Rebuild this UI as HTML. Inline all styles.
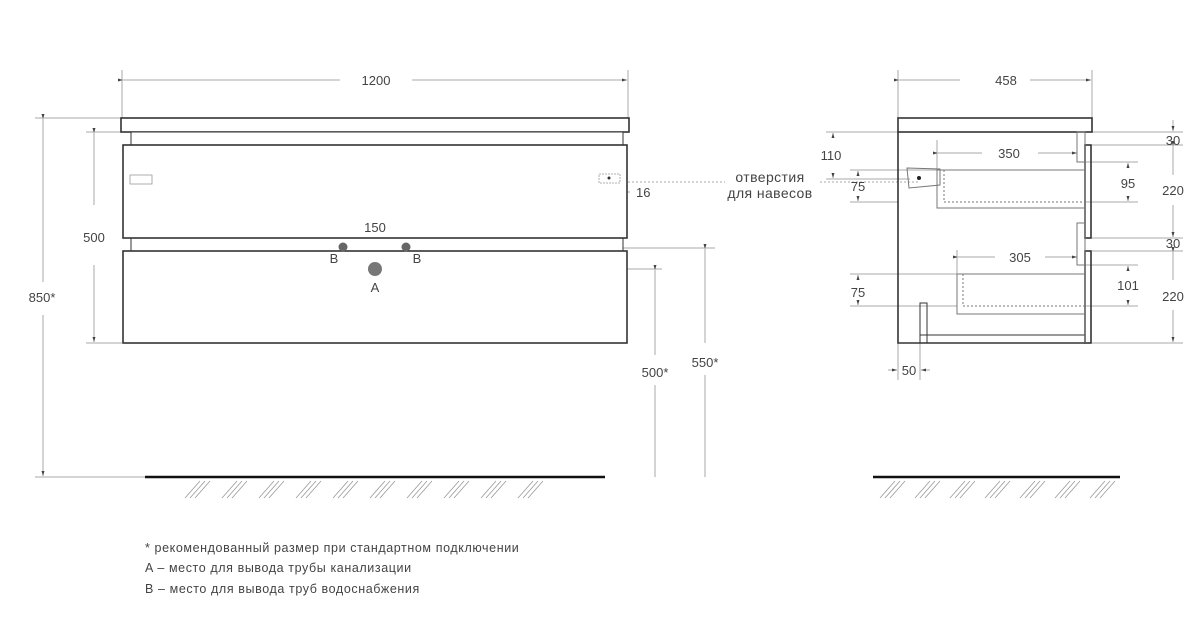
<!DOCTYPE html>
<html><head><meta charset="utf-8"><style>
html,body{margin:0;padding:0;background:#fff;width:1200px;height:618px;overflow:hidden}
text{font-family:"Liberation Sans","DejaVu Sans",sans-serif;fill:#444;font-size:13px}
</style></head><body>
<svg width="1200" height="618" viewBox="0 0 1200 618" xmlns="http://www.w3.org/2000/svg">
<defs>
<marker id="ar" markerWidth="6" markerHeight="6" refX="5" refY="3" orient="auto"><path d="M0,1.5 L5,3 L0,4.5z" fill="#444"/></marker>
</defs>
<g stroke="#aaa" stroke-width="1" fill="none">
<line x1="122" y1="70" x2="122" y2="118"/><line x1="628" y1="70" x2="628" y2="118"/>
<line x1="123" y1="80" x2="340" y2="80" marker-start="url(#ar)"/><line x1="412" y1="80" x2="627" y2="80" marker-end="url(#ar)"/>
<line x1="35" y1="118" x2="121" y2="118"/><line x1="35" y1="477" x2="145" y2="477"/>
<line x1="43" y1="119" x2="43" y2="282" marker-start="url(#ar)"/><line x1="43" y1="315" x2="43" y2="476" marker-end="url(#ar)"/>
<line x1="86" y1="132" x2="122" y2="132"/><line x1="86" y1="343" x2="122" y2="343"/>
<line x1="94" y1="133" x2="94" y2="205" marker-start="url(#ar)"/><line x1="94" y1="265" x2="94" y2="342" marker-end="url(#ar)"/>
<line x1="335" y1="248" x2="715" y2="248"/><line x1="383" y1="269" x2="662" y2="269"/>
<line x1="655" y1="270" x2="655" y2="355" marker-start="url(#ar)"/><line x1="655" y1="385" x2="655" y2="477"/>
<line x1="705" y1="249" x2="705" y2="343" marker-start="url(#ar)"/><line x1="705" y1="375" x2="705" y2="477"/>
<line x1="343" y1="220" x2="343" y2="255"/><line x1="406" y1="220" x2="406" y2="255"/>
<line x1="352" y1="228" x2="344" y2="228" marker-end="url(#ar)"/><line x1="396" y1="228" x2="405" y2="228" marker-end="url(#ar)"/>
<line x1="620" y1="175" x2="620" y2="200"/>
<line x1="612" y1="192" x2="619" y2="192" marker-end="url(#ar)"/><line x1="630" y1="192" x2="622" y2="192" marker-end="url(#ar)"/>
<line x1="620" y1="182" x2="725" y2="182" stroke-dasharray="2,2"/>
<line x1="820" y1="182" x2="918" y2="182" stroke-dasharray="2,2"/>
<line x1="898" y1="70" x2="898" y2="118"/><line x1="1092" y1="70" x2="1092" y2="118"/>
<line x1="899" y1="80" x2="960" y2="80" marker-start="url(#ar)"/><line x1="1030" y1="80" x2="1091" y2="80" marker-end="url(#ar)"/>
<line x1="1092" y1="132" x2="1183" y2="132"/><line x1="1092" y1="145" x2="1183" y2="145"/>
<line x1="1092" y1="238" x2="1183" y2="238"/><line x1="1092" y1="251" x2="1183" y2="251"/>
<line x1="1092" y1="343" x2="1183" y2="343"/>
<line x1="1173" y1="120" x2="1173" y2="131" marker-end="url(#ar)"/>
<line x1="1173" y1="146" x2="1173" y2="175" marker-start="url(#ar)"/><line x1="1173" y1="205" x2="1173" y2="237" marker-end="url(#ar)"/>
<line x1="1173" y1="252" x2="1173" y2="280" marker-start="url(#ar)"/><line x1="1173" y1="310" x2="1173" y2="342" marker-end="url(#ar)"/>
<line x1="1085" y1="162" x2="1138" y2="162"/><line x1="1085" y1="202" x2="1138" y2="202"/>
<line x1="1128" y1="166" x2="1128" y2="163" marker-end="url(#ar)"/><line x1="1128" y1="198" x2="1128" y2="201" marker-end="url(#ar)"/>
<line x1="1085" y1="265" x2="1138" y2="265"/><line x1="1085" y1="306" x2="1138" y2="306"/>
<line x1="1128" y1="269" x2="1128" y2="266" marker-end="url(#ar)"/><line x1="1128" y1="302" x2="1128" y2="305" marker-end="url(#ar)"/>
<line x1="826" y1="132" x2="898" y2="132"/><line x1="826" y1="179" x2="910" y2="179"/>
<line x1="833" y1="137" x2="833" y2="133" marker-end="url(#ar)"/><line x1="833" y1="174" x2="833" y2="178" marker-end="url(#ar)"/>
<line x1="850" y1="170" x2="937" y2="170"/><line x1="850" y1="202" x2="898" y2="202"/>
<line x1="858" y1="174" x2="858" y2="171" marker-end="url(#ar)"/><line x1="858" y1="198" x2="858" y2="201" marker-end="url(#ar)"/>
<line x1="850" y1="274" x2="957" y2="274"/><line x1="850" y1="306" x2="957" y2="306"/>
<line x1="858" y1="278" x2="858" y2="275" marker-end="url(#ar)"/><line x1="858" y1="302" x2="858" y2="305" marker-end="url(#ar)"/>
<line x1="937" y1="140" x2="937" y2="170"/>
<line x1="938" y1="153" x2="982" y2="153" marker-start="url(#ar)"/><line x1="1038" y1="153" x2="1077" y2="153" marker-end="url(#ar)"/>
<line x1="957" y1="250" x2="957" y2="274"/>
<line x1="958" y1="257" x2="995" y2="257" marker-start="url(#ar)"/><line x1="1045" y1="257" x2="1077" y2="257" marker-end="url(#ar)"/>
<line x1="898" y1="342" x2="898" y2="380"/><line x1="920" y1="342" x2="920" y2="380"/>
<line x1="888" y1="370" x2="897" y2="370" marker-end="url(#ar)"/><line x1="930" y1="370" x2="921" y2="370" marker-end="url(#ar)"/>
</g>
<g stroke="#333" stroke-width="1.6" fill="#fff">
<rect x="121" y="118" width="508" height="14"/>
<rect x="131" y="132" width="492" height="13" stroke-width="1"/>
<rect x="131" y="238" width="492" height="13" stroke-width="1"/>
<rect x="123" y="145" width="504" height="93"/>
<rect x="123" y="251" width="504" height="92"/>
</g>
<g stroke="#999" stroke-width="0.8" fill="none">
<rect x="130" y="175" width="22" height="9"/><rect x="599" y="174" width="21" height="9" stroke-dasharray="2,1"/>
</g>
<circle cx="609" cy="178" r="1.5" fill="#333"/>
<circle cx="343" cy="247" r="4.5" fill="#666"/><circle cx="406" cy="247" r="4.5" fill="#666"/>
<circle cx="375" cy="269" r="7" fill="#777"/>
<g stroke="#333" stroke-width="1.6" fill="none">
<rect x="898" y="118" width="194" height="14" fill="#fff"/>
<path d="M898,132 V343 H1085"/>
<rect x="1085" y="145" width="6" height="93"/>
<rect x="1085" y="251" width="6" height="92"/>
<line x1="920" y1="335" x2="1085" y2="335" stroke-width="1"/>
<rect x="920" y="303" width="7" height="40" stroke-width="1"/>
</g>
<g stroke="#777" stroke-width="1" fill="none">
<line x1="1085" y1="132" x2="1085" y2="343"/>
<rect x="1077" y="132" width="8" height="30"/><rect x="1077" y="223" width="8" height="42"/>
<path d="M1085,170 H937 V208 H1085"/>
<path d="M944,170 V202 H1085" stroke-dasharray="2,2"/>
<path d="M1085,274 H957 V314 H1085"/>
<path d="M963,274 V306 H1085" stroke-dasharray="2,2"/>
<path d="M907,168 L940,169 V185 L909,188 Z"/>
</g>
<circle cx="919" cy="178" r="2" fill="#222"/>
<line x1="145" y1="477" x2="605" y2="477" stroke="#111" stroke-width="2.5"/>
<line x1="873" y1="477" x2="1120" y2="477" stroke="#111" stroke-width="2.5"/>
<g stroke="#999" stroke-width="0.8">
<path d="M185,498 L200,481 M190,498 L205,481 M195,498 L210,481 M222,498 L237,481 M227,498 L242,481 M232,498 L247,481 M259,498 L274,481 M264,498 L279,481 M269,498 L284,481 M296,498 L311,481 M301,498 L316,481 M306,498 L321,481 M333,498 L348,481 M338,498 L353,481 M343,498 L358,481 M370,498 L385,481 M375,498 L390,481 M380,498 L395,481 M407,498 L422,481 M412,498 L427,481 M417,498 L432,481 M444,498 L459,481 M449,498 L464,481 M454,498 L469,481 M481,498 L496,481 M486,498 L501,481 M491,498 L506,481 M518,498 L533,481 M523,498 L538,481 M528,498 L543,481"/>
<path d="M880,498 L895,481 M885,498 L900,481 M890,498 L905,481 M915,498 L930,481 M920,498 L935,481 M925,498 L940,481 M950,498 L965,481 M955,498 L970,481 M960,498 L975,481 M985,498 L1000,481 M990,498 L1005,481 M995,498 L1010,481 M1020,498 L1035,481 M1025,498 L1040,481 M1030,498 L1045,481 M1055,498 L1070,481 M1060,498 L1075,481 M1065,498 L1080,481 M1090,498 L1105,481 M1095,498 L1110,481 M1100,498 L1115,481"/>
</g>
<text x="376" y="85" text-anchor="middle">1200</text>
<text x="1006" y="85" text-anchor="middle">458</text>
<text x="42" y="302" text-anchor="middle">850*</text>
<text x="94" y="242" text-anchor="middle">500</text>
<text x="375" y="232" text-anchor="middle">150</text>
<text x="334" y="263" text-anchor="middle">B</text>
<text x="417" y="263" text-anchor="middle">B</text>
<text x="375" y="292" text-anchor="middle">A</text>
<text x="636" y="197">16</text>
<text x="770" y="182" text-anchor="middle" style="font-size:14px;letter-spacing:0.4px">отверстия</text>
<text x="770" y="198" text-anchor="middle" style="font-size:14px;letter-spacing:0.4px">для навесов</text>
<text x="655" y="377" text-anchor="middle">500*</text>
<text x="705" y="367" text-anchor="middle">550*</text>
<text x="831" y="160" text-anchor="middle">110</text>
<text x="858" y="191" text-anchor="middle">75</text>
<text x="858" y="297" text-anchor="middle">75</text>
<text x="1009" y="158" text-anchor="middle">350</text>
<text x="1020" y="262" text-anchor="middle">305</text>
<text x="1128" y="188" text-anchor="middle">95</text>
<text x="1128" y="290" text-anchor="middle">101</text>
<text x="1173" y="145" text-anchor="middle">30</text>
<text x="1173" y="195" text-anchor="middle">220</text>
<text x="1173" y="248" text-anchor="middle">30</text>
<text x="1173" y="301" text-anchor="middle">220</text>
<text x="909" y="375" text-anchor="middle">50</text>
<g style="font-size:12.5px;letter-spacing:0.6px">
<text x="145" y="552" style="font-size:12.5px">* рекомендованный размер при стандартном подключении</text>
<text x="145" y="572" style="font-size:12.5px">A – место для вывода трубы канализации</text>
<text x="145" y="593" style="font-size:12.5px">B – место для вывода труб водоснабжения</text>
</g>
</svg>
</body></html>
